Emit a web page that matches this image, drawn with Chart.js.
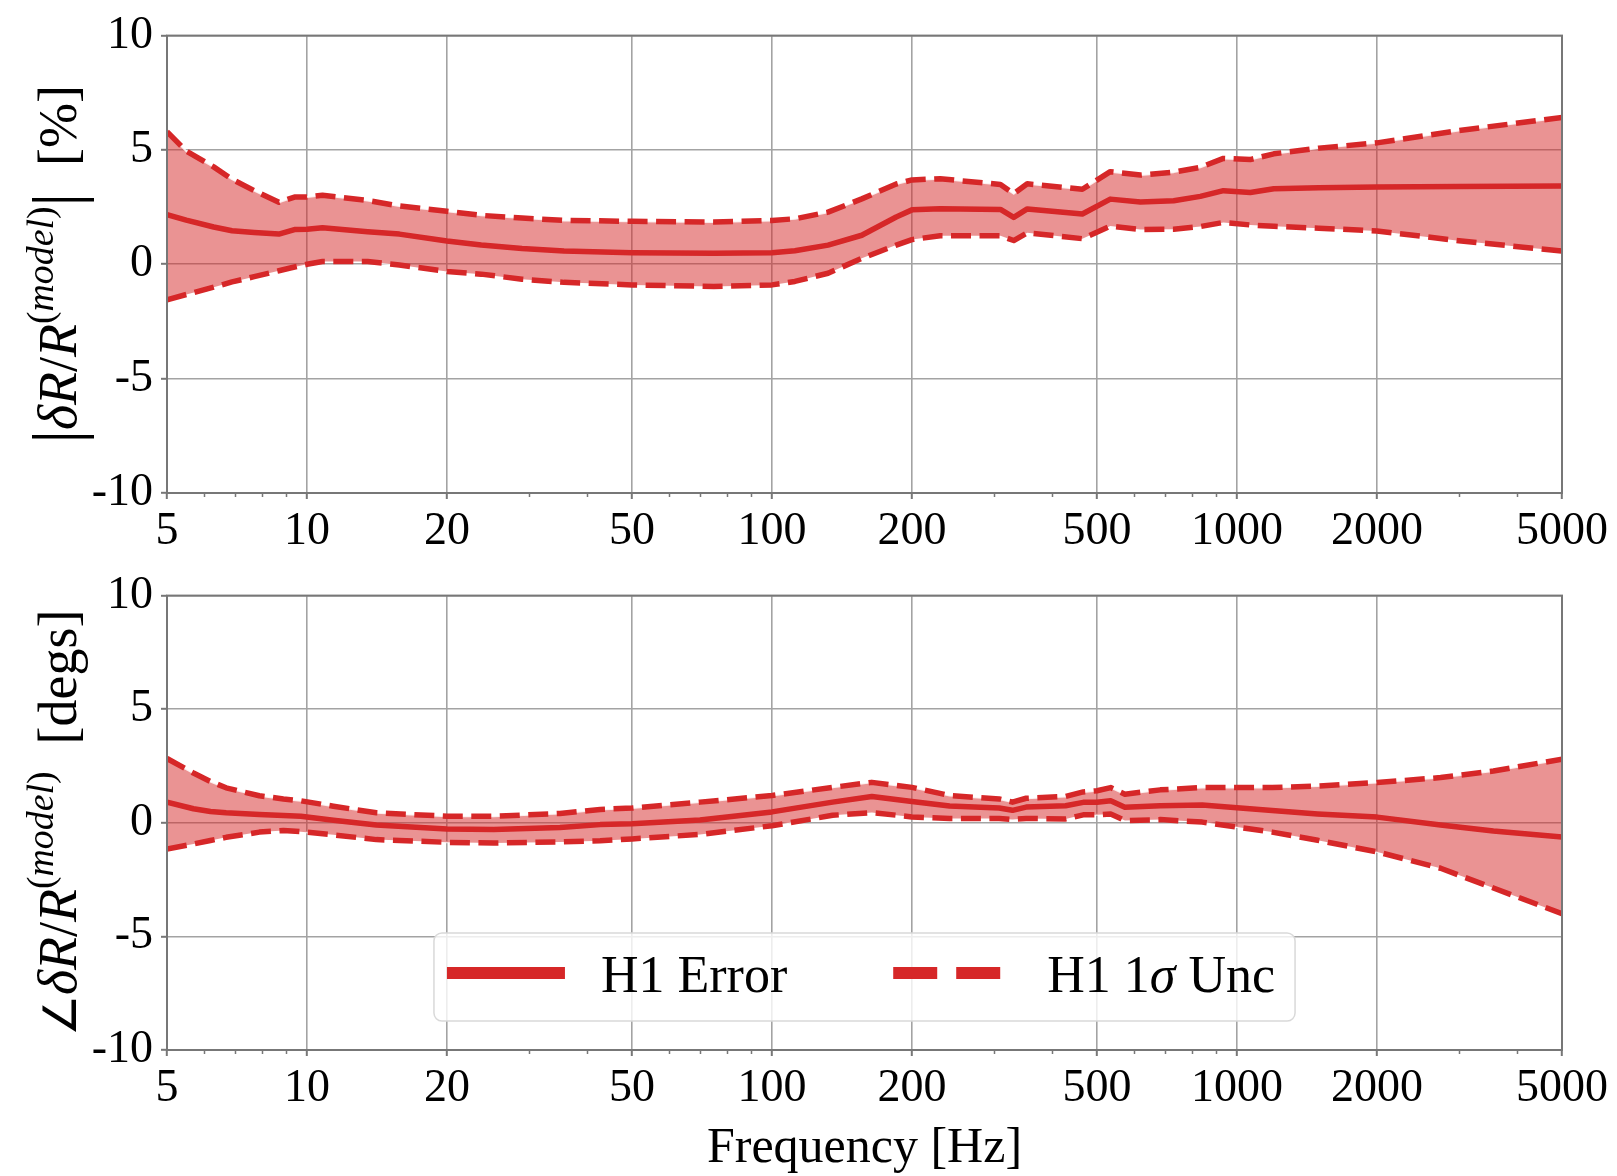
<!DOCTYPE html>
<html>
<head>
<meta charset="utf-8">
<script src="https://cdn.jsdelivr.net/npm/chart.js@4.4.0/dist/chart.umd.min.js"></script>
<style>
  html, body { margin: 0; padding: 0; background: #fff; }
  #wrap { position: relative; width: 1617px; height: 1176px; }
  #magWrap { position: absolute; left: 0; top: 0; }
  #phaseWrap { position: absolute; left: 0; top: 560px; }
  canvas { display: block; }
</style>
</head>
<body>
<div id="wrap">
  <div id="magWrap"><canvas id="magChart" width="1617" height="560"></canvas></div>
  <div id="phaseWrap"><canvas id="phaseChart" width="1617" height="616"></canvas></div>
</div>
<script>
/* Magnitude / phase residual of the H1 response vs. model, with 1-sigma band. */

// magnitude panel [%]
const magFreq = [5, 5.5, 6.3, 6.9, 7.7, 8.7, 9.4, 10, 10.8, 13.5, 15.8, 20, 23.7, 29, 35.7, 50, 75, 100, 112, 132, 156, 185, 200, 230, 310, 331, 354, 465, 534, 620, 731, 834, 935, 1068, 1200, 1500, 2000, 3000, 5000];
const magErr = [2.17, 1.93, 1.63, 1.47, 1.39, 1.32, 1.52, 1.53, 1.60, 1.42, 1.32, 1.02, 0.84, 0.69, 0.58, 0.51, 0.48, 0.51, 0.59, 0.84, 1.27, 2.07, 2.38, 2.43, 2.40, 2.05, 2.42, 2.20, 2.85, 2.72, 2.78, 2.97, 3.22, 3.14, 3.30, 3.35, 3.38, 3.40, 3.42];
const magUp = [5.80, 4.95, 4.26, 3.72, 3.22, 2.71, 2.94, 2.94, 3.02, 2.79, 2.55, 2.32, 2.14, 2.02, 1.92, 1.88, 1.85, 1.92, 1.99, 2.28, 2.86, 3.51, 3.69, 3.74, 3.49, 3.09, 3.52, 3.28, 4.05, 3.90, 4.03, 4.24, 4.63, 4.58, 4.83, 5.08, 5.31, 5.85, 6.42];
const magLo = [-1.55, -1.32, -1.00, -0.77, -0.54, -0.28, -0.12, 0.00, 0.12, 0.12, -0.03, -0.31, -0.43, -0.65, -0.79, -0.90, -0.97, -0.90, -0.75, -0.39, 0.26, 0.84, 1.08, 1.25, 1.25, 1.04, 1.38, 1.12, 1.67, 1.52, 1.53, 1.65, 1.83, 1.72, 1.66, 1.58, 1.46, 1.03, 0.58];

// phase panel [degs]
const phaseFreq = [5, 5.7, 6.2, 6.7, 7.9, 8.9, 9.7, 11.4, 14.1, 20, 25.2, 35, 42.7, 50, 70, 100, 135, 164, 200, 241, 308, 329, 352, 428, 467, 500, 535, 574, 684, 842, 1000, 1190, 1491, 2002, 2741, 3560, 5000];
const phaseErr = [0.91, 0.62, 0.50, 0.44, 0.36, 0.32, 0.29, 0.11, -0.10, -0.27, -0.29, -0.21, -0.08, -0.04, 0.12, 0.48, 0.91, 1.16, 0.94, 0.74, 0.65, 0.55, 0.69, 0.75, 0.90, 0.90, 0.97, 0.68, 0.75, 0.78, 0.66, 0.54, 0.39, 0.25, -0.10, -0.36, -0.62];
const phaseUp = [2.83, 2.19, 1.82, 1.54, 1.19, 1.05, 0.97, 0.73, 0.44, 0.29, 0.29, 0.41, 0.59, 0.65, 0.91, 1.20, 1.56, 1.78, 1.56, 1.20, 1.05, 0.91, 1.08, 1.16, 1.36, 1.41, 1.55, 1.26, 1.45, 1.55, 1.55, 1.55, 1.62, 1.77, 1.99, 2.28, 2.80];
const phaseLo = [-1.15, -0.93, -0.78, -0.64, -0.41, -0.34, -0.39, -0.53, -0.74, -0.86, -0.89, -0.84, -0.79, -0.71, -0.51, -0.13, 0.33, 0.45, 0.26, 0.19, 0.19, 0.15, 0.19, 0.17, 0.35, 0.35, 0.39, 0.10, 0.14, 0.03, -0.19, -0.41, -0.77, -1.28, -2.00, -2.87, -4.00];

// axes
const freqTicks = [5, 10, 20, 50, 100, 200, 500, 1000, 2000, 5000];
const freqMinor = [6, 7, 8, 9, 30, 40, 60, 70, 80, 90, 300, 400, 600, 700, 800, 900, 3000, 4000];
const yTicks = [-10, -7.5, -5, -2.5, 0, 2.5, 5, 7.5, 10];
const yLabelled = [-10, -5, 0, 5, 10];

const RED = '#d62728';
const BAND = 'rgba(214, 39, 40, 0.5)';
const EDGE = 'rgba(255, 255, 255, 0.85)';
const GRID = '#a3a3a3';
const SPINE = '#777777';
const SERIF = "'Liberation Serif', 'Times New Roman', serif";

// k: n = upright, i = italic, bar = tall delimiter, small = reduced upright, sup / supn = superscript
const magTitle = [
  { t: '|', k: 'bar' }, { t: 'δR', k: 'i' }, { t: '/', k: 'n' }, { t: 'R', k: 'i' },
  { t: '(', k: 'supn' }, { t: 'model', k: 'sup' }, { t: ')', k: 'supn' },
  { t: '|', k: 'bar' }, { t: '  [%]', k: 'n' }
];
const phaseTitle = [
  { t: '∠', k: 'small' }, { t: 'δR', k: 'i' }, { t: '/', k: 'n' }, { t: 'R', k: 'i' },
  { t: '(', k: 'supn' }, { t: 'model', k: 'sup' }, { t: ')', k: 'supn' },
  { t: '  [degs]', k: 'n' }
];

const pts = (xs, ys) => xs.map((x, i) => ({ x, y: ys[i] }));

function buildDatasets(freq, err, up, lo) {
  return [
    { label: 'band', data: pts(freq, up), borderColor: EDGE, borderWidth: 2, backgroundColor: BAND, fill: '+1', order: 3 },
    { label: 'bandLo', data: pts(freq, lo), borderColor: EDGE, borderWidth: 2, fill: false, order: 3 },
    { label: 'H1 Error', data: pts(freq, err), borderColor: RED, borderWidth: 5.5, fill: false, order: 1, legend: 'solid' },
    { label: 'H1 1σ Unc', data: pts(freq, up), borderColor: RED, borderWidth: 5.5, borderDash: [20, 8.5], fill: false, order: 2, legend: 'dashed' },
    { label: 'lower', data: pts(freq, lo), borderColor: RED, borderWidth: 5.5, borderDash: [20, 8.5], fill: false, order: 2 }
  ];
}

// frame + minor ticks on the frequency axis
const framePlugin = {
  id: 'frame',
  afterDatasetsDraw(chart) {
    const { ctx, chartArea: a, scales } = chart;
    ctx.save();
    ctx.strokeStyle = SPINE;
    ctx.lineWidth = 2;
    ctx.strokeRect(a.left, a.top, a.right - a.left, a.bottom - a.top);
    ctx.beginPath();
    freqMinor.forEach(v => {
      const x = Math.round(scales.x.getPixelForValue(v)) + 0.5;
      ctx.moveTo(x, a.bottom);
      ctx.lineTo(x, a.bottom + 4);
    });
    ctx.lineWidth = 1.5;
    ctx.stroke();
    ctx.restore();
  }
};

// rotated y-axis title made of upright / italic / superscript runs
const yTitlePlugin = {
  id: 'yTitle',
  afterDraw(chart, args, opts) {
    const { ctx, chartArea: a } = chart;
    const size = opts.size;
    const fontFor = k => {
      if (k === 'i') return `italic ${size}px ${SERIF}`;
      if (k === 'sup') return `italic ${size * 0.7}px ${SERIF}`;
      if (k === 'supn') return `${size * 0.7}px ${SERIF}`;
      if (k === 'bar') return `${size * 1.25}px ${SERIF}`;
      if (k === 'small') return `${size * 0.85}px ${SERIF}`;
      return `${size}px ${SERIF}`;
    };
    const shift = k => (k.startsWith('sup') ? -size * 0.42 : k === 'bar' ? size * 0.08 : 0);
    let total = 0;
    opts.runs.forEach(r => { ctx.font = fontFor(r.k); r.w = ctx.measureText(r.t).width; total += r.w; });
    ctx.save();
    ctx.translate(opts.x, (a.top + a.bottom) / 2);
    ctx.rotate(-Math.PI / 2);
    ctx.fillStyle = '#000';
    ctx.textBaseline = 'alphabetic';
    let x = -total / 2;
    opts.runs.forEach(r => {
      ctx.font = fontFor(r.k);
      ctx.fillText(r.t, x, shift(r.k));
      x += r.w;
    });
    ctx.restore();
  }
};

// boxed legend sitting inside the lower panel
const legendPlugin = {
  id: 'boxLegend',
  afterDraw(chart, args, opts) {
    if (!opts.show) return;
    const { ctx, chartArea: a } = chart;
    const items = chart.data.datasets.filter(d => d.legend);
    const size = 52, handle = 118, textGap = 36, colGap = 106, padL = 13, padR = 20, boxH = 88;
    ctx.save();
    const widthOf = label => {
      let w = 0;
      label.split(/(σ)/).forEach(p => {
        ctx.font = (p === 'σ' ? 'italic ' : '') + `${size}px ${SERIF}`;
        w += ctx.measureText(p).width;
      });
      return w;
    };
    const tw = items.map(d => widthOf(d.label));
    const boxW = padL + items.length * (handle + textGap) + tw.reduce((s, w) => s + w, 0) + colGap * (items.length - 1) + padR;
    const x0 = (a.left + a.right) / 2 - boxW / 2;
    const y0 = a.bottom - 29 - boxH;
    ctx.beginPath();
    ctx.roundRect(x0, y0, boxW, boxH, 8);
    ctx.fillStyle = 'rgba(255,255,255,0.8)';
    ctx.fill();
    ctx.strokeStyle = '#d9d9d9';
    ctx.lineWidth = 1.5;
    ctx.stroke();

    let x = x0 + padL;
    const yLine = y0 + 40, yText = y0 + 59;
    items.forEach((d, i) => {
      ctx.beginPath();
      ctx.strokeStyle = d.borderColor;
      ctx.lineWidth = 12;
      ctx.lineCap = 'butt';
      ctx.setLineDash(d.legend === 'dashed' ? [44, 19] : []);
      ctx.moveTo(x, yLine);
      ctx.lineTo(x + handle, yLine);
      ctx.stroke();
      ctx.setLineDash([]);
      x += handle + textGap;
      ctx.fillStyle = '#000';
      ctx.textBaseline = 'alphabetic';
      let tx = x;
      d.label.split(/(σ)/).forEach(p => {
        ctx.font = (p === 'σ' ? 'italic ' : '') + `${size}px ${SERIF}`;
        ctx.fillText(p, tx, yText);
        tx += ctx.measureText(p).width;
      });
      x += tw[i] + colGap;
    });
    ctx.restore();
  }
};

function makeOptions(cfg) {
  return {
    responsive: false,
    animation: false,
    events: [],
    layout: { padding: { left: 0, right: 55, top: cfg.padTop, bottom: 0 } },
    elements: { point: { radius: 0 }, line: { tension: 0, borderCapStyle: 'butt', borderJoinStyle: 'round' } },
    plugins: {
      legend: { display: false },
      tooltip: { enabled: false },
      yTitle: { runs: cfg.title, size: cfg.titleSize, x: 76 },
      boxLegend: { show: cfg.legend }
    },
    scales: {
      x: {
        type: 'logarithmic',
        min: 5,
        max: 5000,
        afterBuildTicks: s => { s.ticks = freqTicks.map(v => ({ value: v })); },
        afterFit: s => { s.height = cfg.xHeight; },
        ticks: {
          autoSkip: false, maxRotation: 0, minRotation: 0, padding: 5,
          color: '#000', font: { family: SERIF, size: 46 },
          callback: v => String(v)
        },
        grid: { color: GRID, lineWidth: 1.6, tickLength: 6, tickColor: SPINE, tickWidth: 2 },
        border: { display: false },
        title: {
          display: cfg.xTitle, text: 'Frequency [Hz]', color: '#000',
          font: { family: SERIF, size: 50 }, padding: { top: 0, bottom: -3 }
        }
      },
      y: {
        min: -10,
        max: 10,
        afterBuildTicks: s => { s.ticks = yTicks.map(v => ({ value: v })); },
        afterFit: s => { s.width = 167; },
        ticks: {
          padding: 8, color: '#000', font: { family: SERIF, size: 46 },
          callback: v => (yLabelled.includes(v) ? String(v) : '')
        },
        grid: { color: GRID, lineWidth: 1.6, tickLength: 6, tickColor: SPINE, tickWidth: 2 },
        border: { display: false }
      }
    }
  };
}

new Chart(document.getElementById('magChart'), {
  type: 'line',
  data: { datasets: buildDatasets(magFreq, magErr, magUp, magLo) },
  options: makeOptions({ padTop: 29, xHeight: 67, xTitle: false, legend: false, title: magTitle, titleSize: 54 }),
  plugins: [framePlugin, yTitlePlugin, legendPlugin]
});

new Chart(document.getElementById('phaseChart'), {
  type: 'line',
  data: { datasets: buildDatasets(phaseFreq, phaseErr, phaseUp, phaseLo) },
  options: makeOptions({ padTop: 27, xHeight: 126, xTitle: true, legend: true, title: phaseTitle, titleSize: 54 }),
  plugins: [framePlugin, yTitlePlugin, legendPlugin]
});
</script>
</body>
</html>
